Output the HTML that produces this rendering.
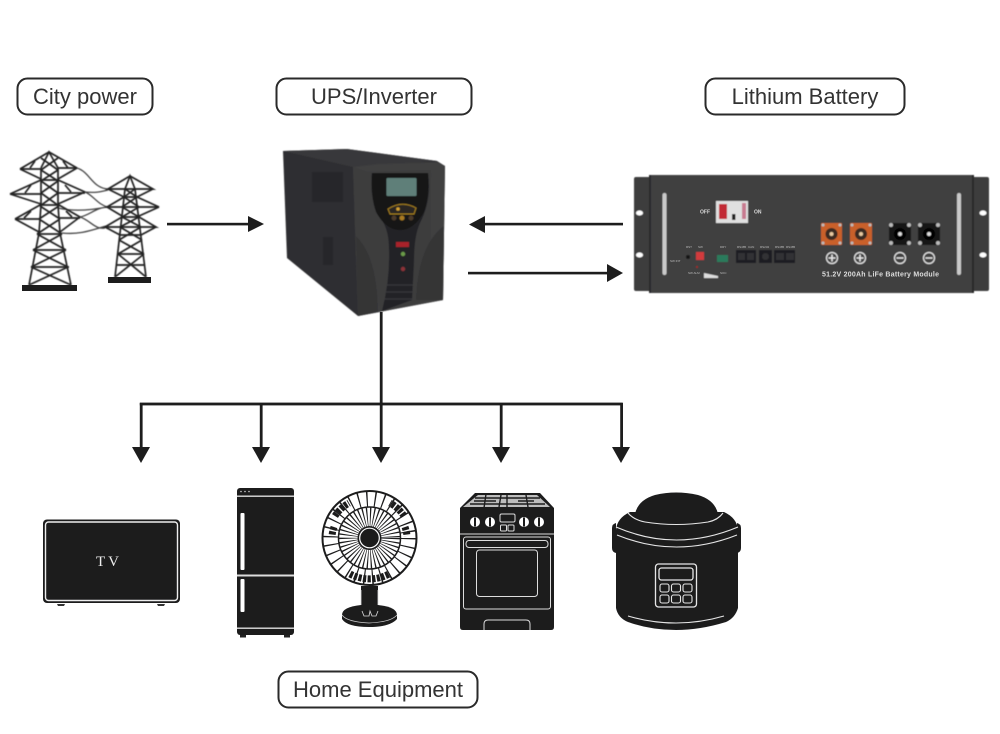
<!DOCTYPE html>
<html lang="en">
<head>
<meta charset="utf-8">
<title>UPS diagram</title>
<style>
html,body{margin:0;padding:0;background:#fff;}
svg{display:block;}
text{font-family:"Liberation Sans",sans-serif;}
</style>
</head>
<body>
<svg width="1000" height="734" viewBox="0 0 1000 734" xmlns="http://www.w3.org/2000/svg">
<defs>
<filter id="b1" x="-5%" y="-5%" width="110%" height="110%"><feGaussianBlur stdDeviation="0.6"/></filter>
<filter id="b2" x="-5%" y="-5%" width="110%" height="110%"><feGaussianBlur stdDeviation="0.3"/></filter>
<filter id="b3" x="-5%" y="-5%" width="110%" height="110%"><feGaussianBlur stdDeviation="0.4"/></filter>
</defs>
<rect width="1000" height="734" fill="#fff"/>

<!-- labels -->
<g fill="#fff" stroke="#2a2a2a" stroke-width="2" filter="url(#b2)">
<rect x="17.5" y="78.5" width="135" height="36" rx="10"/>
<rect x="276.5" y="78.5" width="195" height="36" rx="10"/>
<rect x="705.5" y="78.5" width="199" height="36" rx="10"/>
<rect x="278.5" y="671.5" width="199" height="36" rx="10"/>
</g>
<g font-size="22" fill="#333" text-anchor="middle">
<text x="85" y="104">City power</text>
<text x="374" y="104">UPS/Inverter</text>
<text x="805" y="104">Lithium Battery</text>
<text x="378" y="697">Home Equipment</text>
</g>

<!-- towers -->
<g fill="none" stroke="#222" filter="url(#b3)">
<g stroke-width="1.3" stroke="#444">
<path d="M77 168C90 172 92 188 108 189M85 192C95 193 100 192 108 190M85 192C93 195 98 205 108 207M58 208C75 212 92 210 107 207M80 217C90 220 95 230 105 228M62 233C80 235 92 230 106 226M107 207C95 208 90 215 80 217"/>
</g>
<g stroke-width="1.7">
<!-- left tower -->
<path d="M41 168L49 152L58 168M41 168L41 205L39 233L29 285M58 168L58 205L60 233L71 285"/>
<path d="M20 169L49 152L77 168M10 194L41 180L58 180L85 192M15 219L40 205L59 205L80 217"/>
<path d="M20 169H41M58 168H77M10 194H41M58 193H85M15 219H40M59 218H80"/>
<path d="M20 169L41 179M77 168L58 179M10 194L41 204M85 192L58 204M15 219L39 232M80 217L60 232"/>
<path d="M30 168L35 161M68 168L63 161M25 193L31 185M71 192L65 185M24 218L31 211M72 217L66 211"/>
<path d="M41 158L58 170M58 158L41 170M41 170L58 181M58 170L41 181M41 181L58 193M58 181L41 193M41 193L59 206M58 193L40 206M40 206L60 219M59 206L39 219M39 219L62 234M60 219L37 234M37 234L66 250M62 234L33 250M33 250L68 267M66 250L31 267M31 267L71 285M68 267L29 285"/>
<path d="M39 234H60M35 250H65M31 267H69"/>
<!-- right tower -->
<path d="M125 189L130 176L135 189M125 189L115 277M135 189L146 277"/>
<path d="M108 189L130 176L153 189ZM107 207L124 197L137 197L159 207ZM105 227L122 217L139 217L156 227Z"/>
<path d="M108 189L124 197M153 189L137 197M107 207L122 216M159 207L139 216M105 227L120 235M156 227L141 235"/>
<path d="M125 189L137 197M135 189L124 197M124 197L139 207M137 197L122 207M122 207L139 217M139 207L122 217M122 217L141 227M139 217L120 227M120 227L142 240M141 227L119 240M119 240L144 254M142 240L118 254M118 254L146 277M144 254L115 277"/>
<path d="M120 235H141M118 254H144M117 265H145"/>
</g>
</g>
<rect x="22" y="285" width="55" height="6" fill="#1d1d1d"/>
<rect x="108" y="277" width="43" height="6" fill="#1d1d1d"/>

<!-- UPS -->
<g filter="url(#b1)">
<path d="M283 151L347 149L437 161L445 166L443 300L358 316L287 258Z" fill="#2e2e30"/>
<path d="M283 151L347 149L437 161L353 167Z" fill="#39393b"/>
<rect x="312" y="172" width="31" height="30" fill="#272729"/>
<rect x="323" y="237" width="10" height="28" fill="#272729"/>
<!-- front -->
<path d="M353 167L378 164L437 162L445 166L443 300L358 316Z" fill="#3f3f41"/>
<path d="M368 172L431 170L430 300L380 312Q378 280 372 262Q362 242 356 236L353 167Z" fill="#3c3c3e"/>
<path d="M356 236Q378 258 378 312L358 316Z" fill="#343436"/>
<path d="M444 226Q418 245 416 300L443 300Z" fill="#343436"/>
<!-- centre column -->
<path d="M372 173H428Q432 200 420 223Q414 236 414 262L412 300L382 311Q390 280 389 250Q389 232 383 222Q370 205 372 173Z" fill="#232325"/>
<path d="M372 173H428Q430 195 424 212Q414 230 400 230Q386 230 376 212Q370 195 372 173Z" fill="#171719"/>
<rect x="386.5" y="178" width="30" height="18" rx="1" fill="#5e7f79"/>
<path d="M388 209Q402 200 416 208L414 214L390 214Z" fill="#2a2520" stroke="#a8821f" stroke-width="1"/>
<circle cx="398" cy="209" r="1.8" fill="#d2a030"/>
<circle cx="394" cy="218" r="2.5" fill="#4c3a2a"/><circle cx="402" cy="218" r="2.5" fill="#a87a20"/><circle cx="411" cy="218" r="2.5" fill="#4c3a2a"/>
<path d="M386 285H413M385 292H413M384 299H412" stroke="#3a3a3c" stroke-width="1"/>
<rect x="396" y="242" width="13" height="5" fill="#a8242a"/>
<circle cx="403" cy="254" r="2.2" fill="#6a9a4a"/>
<circle cx="403" cy="269" r="2.2" fill="#8a3338"/>
</g>

<!-- Battery -->
<g filter="url(#b3)">
<rect x="634" y="177" width="355" height="114" rx="2" fill="#3c3c3e"/>
<rect x="649" y="175" width="325" height="118" fill="#3f3f41"/>
<path d="M650 175V293M973 175V293" stroke="#232325" stroke-width="1.6"/>
<ellipse cx="639.5" cy="213" rx="3.5" ry="2.5" fill="#fff"/><ellipse cx="639.5" cy="255" rx="3.5" ry="2.5" fill="#fff"/>
<ellipse cx="983" cy="213" rx="3.5" ry="2.5" fill="#fff"/><ellipse cx="983" cy="255" rx="3.5" ry="2.5" fill="#fff"/>
<rect x="662.5" y="193" width="4" height="82" rx="2" fill="#c9c9c9"/>
<rect x="957" y="193" width="4" height="82" rx="2" fill="#c9c9c9"/>
<rect x="716" y="201" width="32" height="22" fill="#e0e0e0"/>
<rect x="719" y="204" width="8" height="15" fill="#c22b35"/>
<rect x="742" y="203" width="4" height="16" fill="#c87a90"/>
<rect x="732" y="214" width="3.5" height="6" fill="#222"/>
<rect x="696" y="252" width="8" height="8" fill="#d23a3c"/>
<circle cx="688" cy="257" r="2" fill="#151515"/>
<rect x="717" y="255" width="11" height="7" fill="#2a7a5c"/>
<rect x="736" y="250" width="20" height="13" fill="#1e1e20"/>
<rect x="759" y="250" width="13" height="13" fill="#1e1e20"/>
<rect x="774" y="250" width="21" height="13" fill="#1e1e20"/>
<g fill="#333335"><rect x="738" y="253" width="7" height="7"/><rect x="747" y="253" width="7" height="7"/><circle cx="765.5" cy="256.5" r="3.5"/><rect x="776" y="253" width="8" height="7"/><rect x="786" y="253" width="8" height="7"/></g>
<path d="M704 273L718 276V278H704Z" fill="#ddd"/>
<circle cx="697" cy="267" r="1" fill="#a22"/>
<rect x="821" y="223" width="21" height="22" rx="1" fill="#c9612c"/>
<rect x="850" y="223" width="22" height="22" rx="1" fill="#c9612c"/>
<rect x="889" y="223" width="22" height="22" rx="1" fill="#161616"/>
<rect x="918" y="223" width="22" height="22" rx="1" fill="#161616"/>
<g fill="#bbb">
<circle cx="823" cy="225" r="1.5"/><circle cx="840" cy="225" r="1.5"/><circle cx="823" cy="243" r="1.5"/><circle cx="840" cy="243" r="1.5"/>
<circle cx="852" cy="225" r="1.5"/><circle cx="870" cy="225" r="1.5"/><circle cx="852" cy="243" r="1.5"/><circle cx="870" cy="243" r="1.5"/>
<circle cx="891" cy="225" r="2"/><circle cx="909" cy="225" r="2"/><circle cx="891" cy="243" r="2"/><circle cx="909" cy="243" r="2"/>
<circle cx="920" cy="225" r="2"/><circle cx="938" cy="225" r="2"/><circle cx="920" cy="243" r="2"/><circle cx="938" cy="243" r="2"/>
</g>
<g>
<circle cx="831.5" cy="234" r="6" fill="#3a2a20"/><circle cx="831.5" cy="234" r="2" fill="#e8c9a0"/>
<circle cx="861" cy="234" r="6" fill="#3a2a20"/><circle cx="861" cy="234" r="2" fill="#e8c9a0"/>
<circle cx="900" cy="234" r="6" fill="#000"/><circle cx="900" cy="234" r="2" fill="#ddd"/>
<circle cx="929" cy="234" r="6" fill="#000"/><circle cx="929" cy="234" r="2" fill="#ddd"/>
</g>
<g fill="none" stroke="#e5e5e5" stroke-width="1.2">
<circle cx="832" cy="258" r="5.5"/><circle cx="860" cy="258" r="5.5"/><circle cx="900" cy="258" r="5.5"/><circle cx="929" cy="258" r="5.5"/>
<path d="M828.5 258h7M832 254.5v7M856.5 258h7M860 254.5v7M896.5 258h7M925.5 258h7" stroke-width="1.6"/>
</g>
</g>
<g fill="#ddd" font-weight="bold">
<text x="822" y="276.5" font-size="7" textLength="117" lengthAdjust="spacing">51.2V 200Ah LiFe Battery Module</text>
<text x="700" y="213.5" font-size="5">OFF</text>
<text x="754" y="213.5" font-size="5">ON</text>
</g>
<g fill="#bbb" font-size="3">
<text x="686" y="248">RST</text><text x="698" y="248">SW</text><text x="720" y="248">DRY</text>
<text x="737" y="248">RS485</text><text x="748" y="248">CAN</text><text x="760" y="248">RS232</text><text x="775" y="248">RS485</text><text x="786" y="248">RS485</text>
<text x="670" y="262">SW INT</text><text x="688" y="274">SW ALM</text><text x="720" y="274">SOC</text>
</g>

<!-- arrows -->
<g fill="#1d1d1d" stroke="none">
<rect x="167" y="222.8" width="82" height="2.6"/><path d="M248 216L264 224L248 232Z"/>
<rect x="483" y="222.8" width="140" height="2.6"/><path d="M485 216L469 224.5L485 233Z"/>
<rect x="468" y="271.8" width="141" height="2.6"/><path d="M607 264L623 273L607 282Z"/>
<rect x="379.8" y="312" width="2.8" height="92"/>
<rect x="139.8" y="402.6" width="483" height="2.8"/>
<rect x="139.8" y="403" width="2.8" height="45"/><path d="M132 447H150L141 463Z"/>
<rect x="259.8" y="403" width="2.8" height="45"/><path d="M252 447H270L261 463Z"/>
<rect x="379.8" y="403" width="2.8" height="45"/><path d="M372 447H390L381 463Z"/>
<rect x="499.8" y="403" width="2.8" height="45"/><path d="M492 447H510L501 463Z"/>
<rect x="620.2" y="403" width="2.8" height="45"/><path d="M612 447H630L621 463Z"/>
</g>

<!-- TV -->
<g filter="url(#b2)">
<rect x="43" y="519.5" width="137" height="83.5" rx="4" fill="#1d1d1f"/>
<rect x="45.5" y="522" width="132" height="78.5" rx="3" fill="none" stroke="#eee" stroke-width="1.4"/>
<path d="M57 604H65L64 606H58ZM157 604H165L164 606H158Z" fill="#333"/>
</g>
<text x="109" y="566" font-size="15" fill="#eee" text-anchor="middle" letter-spacing="3" style="font-family:'Liberation Serif',serif">TV</text>

<!-- Fridge -->
<g filter="url(#b2)">
<rect x="237" y="488" width="57" height="147" rx="3" fill="#1d1d1f"/>
<path d="M240 635h6v2.5h-6zM284 635h6v2.5h-6z" fill="#222"/>
<g fill="#ddd">
<rect x="237" y="495.5" width="57" height="1.4"/>
<rect x="237" y="574.5" width="57" height="2"/>
<rect x="237" y="627.5" width="57" height="1.4"/>
</g>
<rect x="240.5" y="513" width="4" height="57" rx="1" fill="#fff"/>
<rect x="240.5" y="579" width="4" height="33" rx="1" fill="#fff"/>
<circle cx="241" cy="491.5" r=".8" fill="#ccc"/><circle cx="245" cy="491.5" r=".8" fill="#ccc"/><circle cx="249" cy="491.5" r=".8" fill="#ccc"/>
</g>

<!-- Fan -->
<g filter="url(#b2)">
<path d="M361 586H378V612H361Z" fill="#1d1d1f"/>
<path d="M361 590V610H378V590" fill="none" stroke="#ddd" stroke-width=".8"/>
<path d="M342 615Q342 607 361 605H378Q397 607 397 615V619Q390 627 369 627Q347 627 342 619Z" fill="#1d1d1f"/>
<path d="M342 615Q347 622 369 623Q391 622 397 615" fill="none" stroke="#ccc" stroke-width=".7"/>
<path d="M362 611L364 616H369L370 611L372 616H376L378 611" fill="none" stroke="#ddd" stroke-width=".8"/>
<circle cx="369.5" cy="538" r="47" fill="#fff" stroke="#1d1d1f" stroke-width="2"/>
<circle cx="369.5" cy="538" r="39" fill="none" stroke="#1d1d1f" stroke-width="15" stroke-dasharray="1.3 6.9"/>
<path d="M335 516A40 40 0 0 1 349 503M404 516A40 40 0 0 0 390 503M334 527A38 38 0 0 0 332 536M405 527A38 38 0 0 1 407 536M350 574A41 41 0 0 0 389 574" fill="none" stroke="#1d1d1f" stroke-width="7" stroke-dasharray="3.2 1.4"/>
<circle cx="369.5" cy="538" r="31" fill="#fff" stroke="#1d1d1f" stroke-width="1.5"/>
<circle cx="369.5" cy="538" r="21" fill="none" stroke="#1d1d1f" stroke-width="19" stroke-dasharray="1 2.1"/>
<circle cx="369.5" cy="538" r="12" fill="#1d1d1f"/>
<circle cx="369.5" cy="538" r="9.8" fill="none" stroke="#fff" stroke-width="1.2"/>
</g>

<!-- Stove -->
<g filter="url(#b2)">
<path d="M475 493H540L554 508V627Q554 630 551 630H463Q460 630 460 627V508Z" fill="#1d1d1f"/>
<path d="M478 495H537L550 507H463Z" fill="#bdbdbd"/>
<path d="M486 494L484 508M501 495L499 507M507 494V508M526 495L528 507M518 501H534M474 501H496M470 504H545M475 498H540" stroke="#1d1d1f" stroke-width="1.4" fill="none"/>
<g fill="#fff">
<circle cx="475" cy="522" r="5"/><circle cx="490" cy="522" r="5"/><circle cx="524" cy="522" r="5"/><circle cx="539" cy="522" r="5"/>
</g>
<g fill="#1d1d1f"><rect x="474" y="517.5" width="2" height="9"/><rect x="489" y="517.5" width="2" height="9"/><rect x="523" y="517.5" width="2" height="9"/><rect x="538" y="517.5" width="2" height="9"/></g>
<g fill="none" stroke="#ddd" stroke-width="1">
<rect x="500" y="514" width="15" height="8" rx="1.5"/>
<rect x="500.5" y="525" width="6" height="6" rx="1"/><rect x="508" y="525" width="6" height="6" rx="1"/>
<path d="M460 534H554"/>
<rect x="463.5" y="537" width="87" height="72" rx="2.5"/>
<rect x="466" y="540.5" width="82" height="7" rx="3"/>
<rect x="476.5" y="550" width="61" height="46.5" rx="3"/>
<path d="M484 630V624Q484 620 488 620H526Q530 620 530 624V630"/>
</g>
</g>

<!-- Cooker -->
<g filter="url(#b2)">
<path d="M612 528Q612 524 616 523V553Q612 552 612 548ZM741 528Q741 524 737 523V553Q741 552 741 548Z" fill="#1d1d1f"/>
<path d="M635 514Q638 500 655 495Q676 490 698 495Q715 500 718 514L722 525H632Z" fill="#1d1d1f"/>
<path d="M630 512L724 512Q737 518 738 530V608Q735 618 726 622Q700 630 676 630Q650 630 628 622Q618 618 616 608V530Q617 518 630 512Z" fill="#1d1d1f"/>
<g fill="none" stroke="#e6e6e6" stroke-width="1.1">
<path d="M628 513Q634 520 645 522Q676 527 708 522Q718 520 723 513"/>
<path d="M616 527Q676 553 738 527"/>
<path d="M617 535Q676 559 737 535"/>
<path d="M628 616Q676 630 724 616"/>
<rect x="655.5" y="564" width="41" height="43" rx="3" stroke-width="1.3"/>
<rect x="659" y="568" width="34" height="12" rx="2.5" stroke-width="1.3"/>
<rect x="660" y="584" width="9" height="8" rx="2"/><rect x="671.5" y="584" width="9" height="8" rx="2"/><rect x="683" y="584" width="9" height="8" rx="2"/>
<rect x="660" y="595" width="9" height="8" rx="2"/><rect x="671.5" y="595" width="9" height="8" rx="2"/><rect x="683" y="595" width="9" height="8" rx="2"/>
</g>
</g>
</svg>
</body>
</html>
